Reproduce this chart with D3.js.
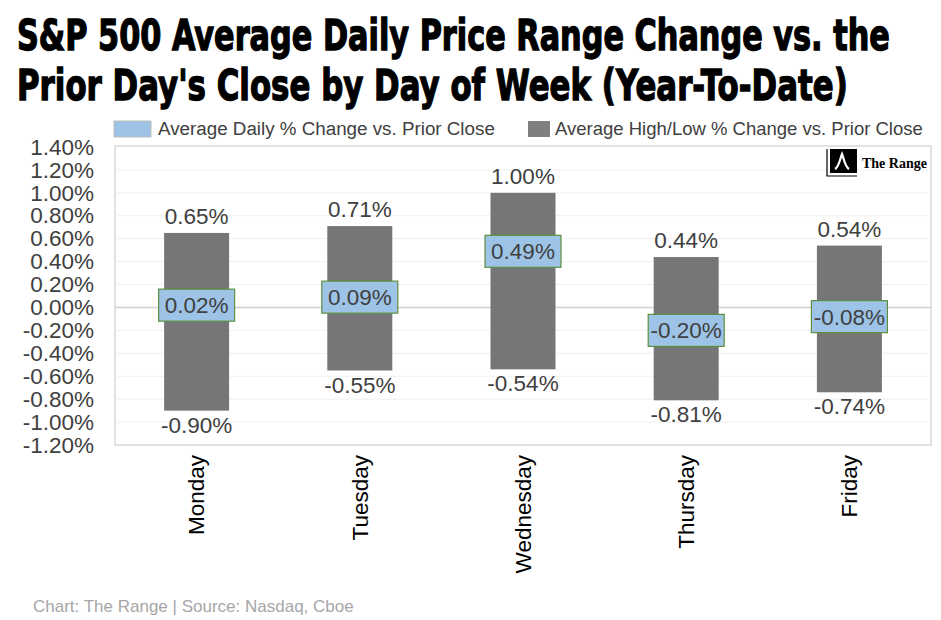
<!DOCTYPE html>
<html lang="en">
<head>
<meta charset="UTF-8">
<title>S&amp;P 500 Average Daily Price Range</title>
<script src="https://d3js.org/d3.v7.min.js"></script>
<style>
  body { margin: 0; background: #fff; }
  svg text { font-family: "Liberation Sans", Arial, sans-serif; }
</style>
</head>
<body>
<div class="chart"></div>
<script>
const days = ["Monday", "Tuesday", "Wednesday", "Thursday", "Friday"];
const dailyChange = [0.02, 0.09, 0.49, -0.20, -0.08];
const highChange = [0.65, 0.71, 1.00, 0.44, 0.54];
const lowChange = [-0.90, -0.55, -0.54, -0.81, -0.74];
const yTicks = [1.4, 1.2, 1.0, 0.8, 0.6, 0.4, 0.2, 0, -0.2, -0.4, -0.6, -0.8, -1.0, -1.2];

const data = days.map((d, i) => ({day: d, daily: dailyChange[i], high: highChange[i], low: lowChange[i]}));

const W = 941, H = 620;
const plot = {left: 115, right: 931, top: 147, bottom: 445};

const svg = d3.select(".chart").append("svg")
    .attr("width", W)
    .attr("height", H);

// title - heavy condensed look, squeezed to the reference widths
const titleLines = [
  {text: "S&P 500 Average Daily Price Range Change vs. the", y: 50, w: 873},
  {text: "Prior Day's Close by Day of Week (Year-To-Date)", y: 100, w: 831}
];
titleLines.forEach(l => {
  const g = svg.append("g");
  const t = g.append("text")
      .attr("x", 0).attr("y", 0)
      .style("font-family", "'DejaVu Sans', sans-serif")
      .attr("font-weight", "bold")
      .attr("font-size", 42)
      .attr("fill", "#000")
      .attr("stroke", "#000")
      .attr("stroke-width", 1.4)
      .text(l.text);
  const natural = t.node().getComputedTextLength();
  g.attr("transform", `translate(17,${l.y}) scale(${l.w / natural},1)`);
});

// legend
const legend = svg.append("g");
legend.append("rect").attr("x", 114).attr("y", 121).attr("width", 37).attr("height", 16)
    .attr("fill", "#9dc3e6").attr("stroke", "#bfbfbf");
legend.append("text").attr("x", 158).attr("y", 135).attr("font-size", 18.8).attr("fill", "#404040")
    .text("Average Daily % Change vs. Prior Close");
legend.append("rect").attr("x", 528).attr("y", 121).attr("width", 22).attr("height", 16)
    .attr("fill", "#7f7f7f");
legend.append("text").attr("x", 555).attr("y", 135).attr("font-size", 18.5).attr("fill", "#404040")
    .text("Average High/Low % Change vs. Prior Close");

const x = d3.scaleBand()
    .domain(days)
    .range([plot.left, plot.right]);

const y = d3.scaleLinear()
    .domain([-1.2, 1.4])
    .range([plot.bottom, plot.top]);

// frame + grid
svg.append("rect")
    .attr("x", plot.left).attr("y", plot.top - 1)
    .attr("width", plot.right - plot.left).attr("height", plot.bottom - plot.top + 1)
    .attr("fill", "none").attr("stroke", "#d9d9d9").attr("stroke-width", 1.5);

svg.append("g").selectAll("line")
    .data(yTicks.filter(t => t !== 1.4 && t !== -1.2))
    .join("line")
    .attr("x1", plot.left).attr("x2", plot.right)
    .attr("y1", d => y(d)).attr("y2", d => y(d))
    .attr("stroke", d => d === 0 ? "#d0d0d0" : "#efefef")
    .attr("stroke-width", d => d === 0 ? 1.5 : 1);

// y axis
const yAxis = d3.axisLeft(y)
    .tickValues(yTicks)
    .tickSize(0)
    .tickPadding(0)
    .tickFormat(d => d.toFixed(2) + "%");

svg.append("g")
    .attr("transform", "translate(94,0)")
    .call(yAxis)
    .call(g => g.select(".domain").remove())
    .selectAll("text")
    .attr("font-family", "'Liberation Sans', Arial, sans-serif")
    .attr("font-size", 22.5)
    .attr("fill", "#404040");

// x axis labels
svg.append("g")
    .attr("transform", `translate(0,${plot.bottom + 10})`)
    .call(d3.axisBottom(x).tickSize(0).tickPadding(0))
    .call(g => g.select(".domain").remove())
    .selectAll("text")
    .attr("font-family", "'Liberation Sans', Arial, sans-serif")
    .attr("font-size", 22.5)
    .attr("fill", "#000")
    .attr("transform", "rotate(-90)")
    .attr("text-anchor", "end")
    .attr("x", 0).attr("y", 0)
    .attr("dy", "0.35em");

const barW = 65;

// high/low range bars
svg.append("g").selectAll("rect")
    .data(data)
    .join("rect")
    .attr("x", d => x(d.day) + x.bandwidth() / 2 - barW / 2)
    .attr("y", d => y(d.high))
    .attr("width", barW)
    .attr("height", d => y(d.low) - y(d.high))
    .attr("fill", "#767676");

const fmt = v => v.toFixed(2) + "%";

// high labels
svg.append("g").selectAll("text")
    .data(data)
    .join("text")
    .attr("x", d => x(d.day) + x.bandwidth() / 2)
    .attr("y", d => y(d.high) - 9)
    .attr("text-anchor", "middle")
    .attr("font-size", 22.5)
    .attr("fill", "#404040")
    .text(d => fmt(d.high));

// low labels
svg.append("g").selectAll("text")
    .data(data)
    .join("text")
    .attr("x", d => x(d.day) + x.bandwidth() / 2)
    .attr("y", d => y(d.low) + 22)
    .attr("text-anchor", "middle")
    .attr("font-size", 22.5)
    .attr("fill", "#404040")
    .text(d => fmt(d.low));

// daily change boxes
const box = svg.append("g").selectAll("g")
    .data(data)
    .join("g")
    .attr("transform", d => `translate(${x(d.day) + x.bandwidth() / 2},${y(d.daily)})`);

box.append("rect")
    .attr("x", -38).attr("y", -16)
    .attr("width", 76).attr("height", 32)
    .attr("fill", "#9dc3e6")
    .attr("stroke", "#5e8f3e")
    .attr("stroke-width", 1.2);

box.append("text")
    .attr("text-anchor", "middle")
    .attr("y", 8)
    .attr("font-size", 22.5)
    .attr("fill", "#404040")
    .text(d => fmt(d.daily));

// logo
const logo = svg.append("g").attr("transform", "translate(827,149)");
logo.append("path")
    .attr("d", "M0,0 V27 H30")
    .attr("fill", "none").attr("stroke", "#000").attr("stroke-width", 1.2);
logo.append("rect").attr("x", 3).attr("y", 0).attr("width", 27).attr("height", 24).attr("fill", "#000");
logo.append("path")
    .attr("d", "M8,20 C12,18 13,10 15,5 C17,10 18,18 22,20")
    .attr("fill", "none").attr("stroke", "#fff").attr("stroke-width", 2.2);
logo.append("text")
    .attr("x", 35).attr("y", 19)
    .style("font-family", "'Liberation Serif', 'DejaVu Serif', serif")
    .attr("font-weight", "bold")
    .attr("font-size", 14)
    .attr("fill", "#000")
    .text("The Range");

// source
svg.append("text")
    .attr("x", 33).attr("y", 612)
    .attr("font-size", 17)
    .attr("fill", "#a6a6a6")
    .text("Chart: The Range | Source: Nasdaq, Cboe");
</script>
</body>
</html>
